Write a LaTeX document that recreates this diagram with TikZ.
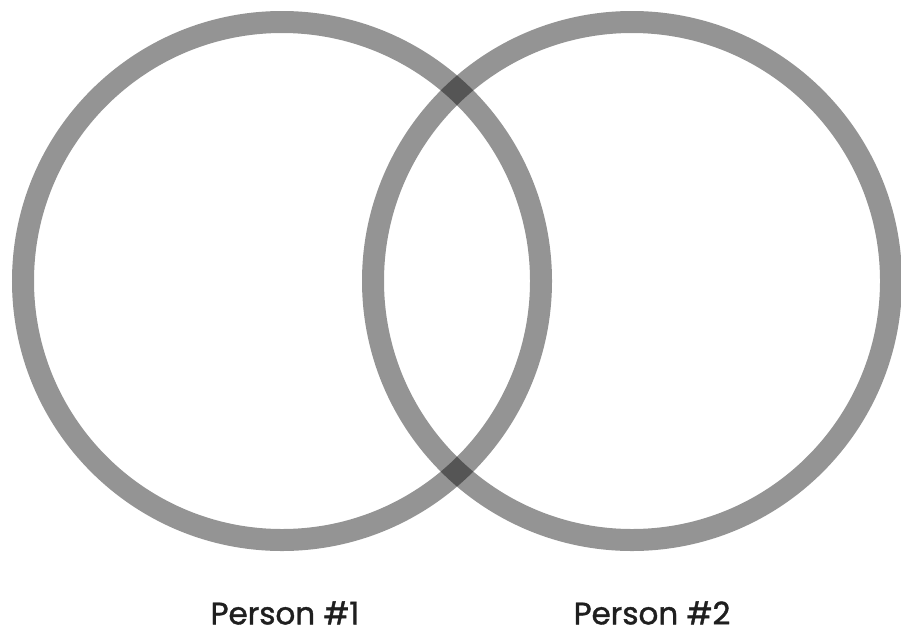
\documentclass[tikz,border=0pt]{standalone}
\usepackage{fontspec}
\setmainfont{Poppins}
\newfontfamily\lblfont{Poppins}[FakeBold=1.3]
\begin{document}
\begin{tikzpicture}[x=1pt,y=-1pt,
  ring/.style={draw=black,draw opacity=0.42,line width=22pt},
  lbl/.style={font=\lblfont\fontsize{31}{31}\selectfont,text=black!88,inner sep=0pt}]
\useasboundingbox (0,0) rectangle (901,635);
\fill[white] (0,0) rectangle (901,635);
\coordinate (c1) at (282,281);
\coordinate (c2) at (632,281);
\draw[ring] (c1) circle[radius=259];
\draw[ring] (c2) circle[radius=259];
\node[lbl] (p1) at (285,613) {Person \#1};
\node[lbl] (p2) at (652,613) {Person \#2};
\end{tikzpicture}
\end{document}
